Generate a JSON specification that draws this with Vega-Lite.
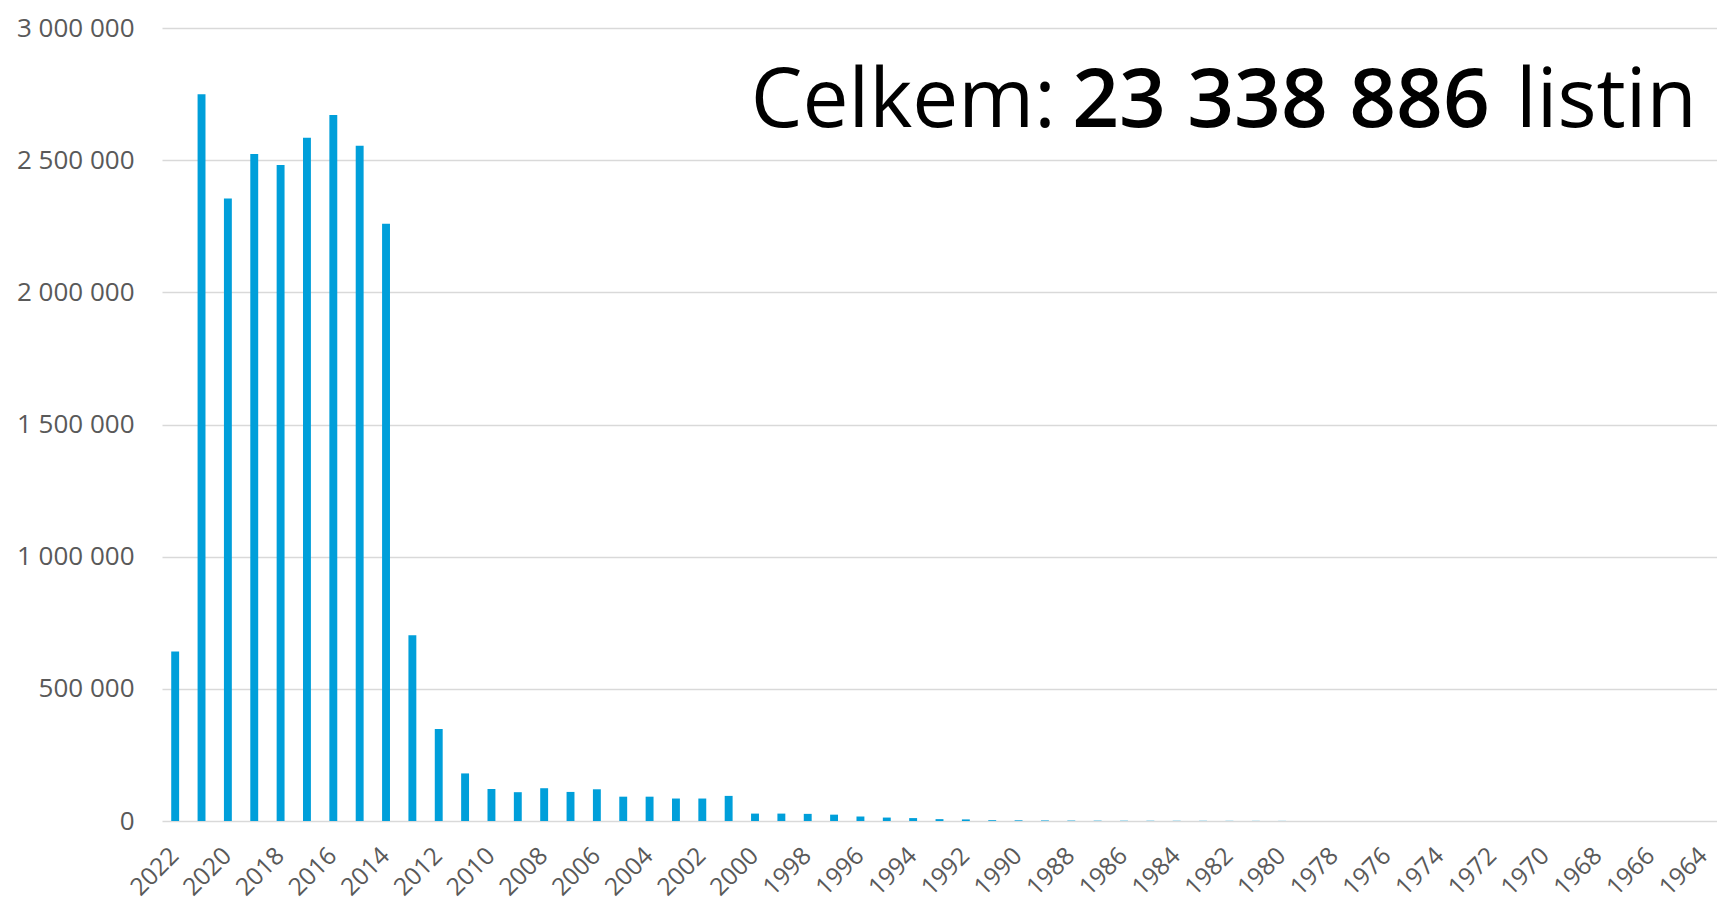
{
  "$schema": "https://vega.github.io/schema/vega-lite/v6.json",
  "width": 1555,
  "height": 793,
  "autosize": "none",
  "padding": {"left": 162, "top": 28, "right": 0, "bottom": 80},
  "background": "white",
  "config": {
    "view": {"stroke": null},
    "locale": {"number": {"decimal": ",", "thousands": " ", "grouping": [3], "currency": ["", " Kč"]}}
  },
  "data": {
    "values": [
      {"year": 2022, "count": 641000},
      {"year": 2021, "count": 2749000},
      {"year": 2020, "count": 2355000},
      {"year": 2019, "count": 2523000},
      {"year": 2018, "count": 2482000},
      {"year": 2017, "count": 2585000},
      {"year": 2016, "count": 2671000},
      {"year": 2015, "count": 2555000},
      {"year": 2014, "count": 2259000},
      {"year": 2013, "count": 703000},
      {"year": 2012, "count": 348000},
      {"year": 2011, "count": 180000},
      {"year": 2010, "count": 121000},
      {"year": 2009, "count": 109000},
      {"year": 2008, "count": 124000},
      {"year": 2007, "count": 110000},
      {"year": 2006, "count": 120000},
      {"year": 2005, "count": 92000},
      {"year": 2004, "count": 92000},
      {"year": 2003, "count": 85000},
      {"year": 2002, "count": 85000},
      {"year": 2001, "count": 95000},
      {"year": 2000, "count": 28000},
      {"year": 1999, "count": 28000},
      {"year": 1998, "count": 27000},
      {"year": 1997, "count": 24000},
      {"year": 1996, "count": 17000},
      {"year": 1995, "count": 13000},
      {"year": 1994, "count": 11000},
      {"year": 1993, "count": 7000},
      {"year": 1992, "count": 6000},
      {"year": 1991, "count": 3000},
      {"year": 1990, "count": 2500},
      {"year": 1989, "count": 2000},
      {"year": 1988, "count": 1500},
      {"year": 1987, "count": 1200},
      {"year": 1986, "count": 1000},
      {"year": 1985, "count": 900},
      {"year": 1984, "count": 800},
      {"year": 1983, "count": 700},
      {"year": 1982, "count": 600},
      {"year": 1981, "count": 500},
      {"year": 1980, "count": 400},
      {"year": 1979, "count": 0},
      {"year": 1978, "count": 0},
      {"year": 1977, "count": 0},
      {"year": 1976, "count": 0},
      {"year": 1975, "count": 0},
      {"year": 1974, "count": 0},
      {"year": 1973, "count": 0},
      {"year": 1972, "count": 0},
      {"year": 1971, "count": 0},
      {"year": 1970, "count": 0},
      {"year": 1969, "count": 0},
      {"year": 1968, "count": 0},
      {"year": 1967, "count": 0},
      {"year": 1966, "count": 0},
      {"year": 1965, "count": 0},
      {"year": 1964, "count": 0}
    ]
  },
  "encoding": {
    "x": {
      "field": "year",
      "type": "ordinal",
      "sort": "descending",
      "scale": {"paddingInner": 0.7, "paddingOuter": 0.35},
      "axis": {
        "title": null,
        "values": [2022, 2020, 2018, 2016, 2014, 2012, 2010, 2008, 2006, 2004, 2002, 2000, 1998, 1996, 1994, 1992, 1990, 1988, 1986, 1984, 1982, 1980, 1978, 1976, 1974, 1972, 1970, 1968, 1966, 1964],
        "labelAngle": -45,
        "labelAlign": "right",
        "labelBaseline": "middle",
        "labelFont": "Open Sans",
        "labelFontSize": 24.5,
        "labelColor": "#595959",
        "labelPadding": 31,
        "labelOverlap": false,
        "ticks": false,
        "domain": false,
        "grid": false
      }
    }
  },
  "layer": [
    {
      "mark": {"type": "bar", "color": "#009FDA"},
      "encoding": {
        "y": {
          "field": "count",
          "type": "quantitative",
          "scale": {"domain": [0, 3000000]},
          "axis": {
            "title": null,
            "values": [0, 500000, 1000000, 1500000, 2000000, 2500000, 3000000],
            "format": ",d",
            "labelFont": "Open Sans",
            "labelFontSize": 26,
            "labelColor": "#595959",
            "labelPadding": 28,
            "ticks": false,
            "domain": false,
            "grid": true,
            "gridColor": "#D9D9D9",
            "gridWidth": 1.5
          }
        }
      }
    },
    {
      "transform": [{"filter": "datum.year == 1964"}],
      "mark": {"type": "text", "text": "listin", "font": "Open Sans", "fontSize": 82, "align": "right", "baseline": "alphabetic", "dx": -7, "color": "#000000"},
      "encoding": {"y": {"datum": 2625000, "type": "quantitative"}}
    },
    {
      "transform": [{"filter": "datum.year == 1964"}],
      "mark": {"type": "text", "text": "23 338 886", "font": "Open Sans", "fontWeight": 600, "fontSize": 82, "align": "right", "baseline": "alphabetic", "dx": -214, "color": "#000000"},
      "encoding": {"y": {"datum": 2625000, "type": "quantitative"}}
    },
    {
      "transform": [{"filter": "datum.year == 1964"}],
      "mark": {"type": "text", "text": "Celkem:", "font": "Open Sans", "fontSize": 82, "align": "right", "baseline": "alphabetic", "dx": -648, "color": "#000000"},
      "encoding": {"y": {"datum": 2625000, "type": "quantitative"}}
    }
  ]
}
